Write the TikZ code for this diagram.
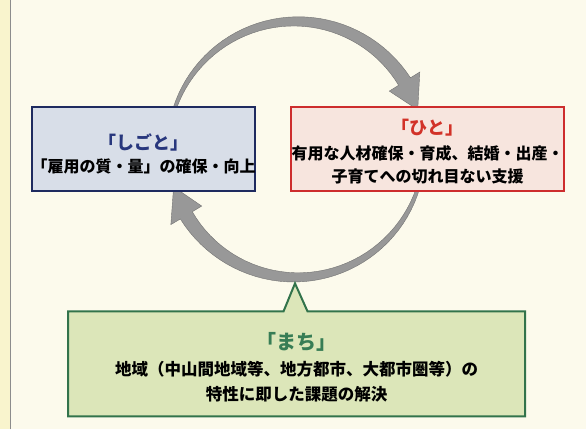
\documentclass[tikz,border=0pt]{standalone}
\usepackage{fontspec}
\setmainfont{Noto Sans CJK JP}
\usetikzlibrary{shapes.callouts}

\definecolor{bgcream}{RGB}{252,250,236}
\definecolor{stripyellow}{RGB}{249,244,205}
\definecolor{edgegray}{RGB}{140,140,140}
\definecolor{arrowfill}{RGB}{152,152,152}
\definecolor{arrowline}{RGB}{115,115,115}
\definecolor{shigotofill}{RGB}{216,222,232}
\definecolor{shigotoline}{RGB}{30,42,95}
\definecolor{shigotoink}{RGB}{40,55,125}
\definecolor{hitofill}{RGB}{247,229,222}
\definecolor{hitoline}{RGB}{205,45,45}
\definecolor{hitoink}{RGB}{210,50,40}
\definecolor{machifill}{RGB}{220,230,185}
\definecolor{machiline}{RGB}{50,115,75}
\definecolor{machiink}{RGB}{55,125,85}

\tikzset{
    box/.style={draw, line width=2pt, minimum height=84pt, inner sep=0pt},
    bodytext/.style={align=center, font=\bfseries\fontsize{16}{23}\selectfont},
    ringarrow/.style={fill=arrowfill, draw=arrowline, line width=0.4pt},
}

\begin{document}
\begin{tikzpicture}[x=1pt, y=1pt]
    % Background
    \fill[bgcream] (0,0) rectangle (586,429);
    \fill[stripyellow] (0,0) rectangle (10,429);
    \draw[edgegray, line width=0.8pt] (10,0) -- (10,429);
    \useasboundingbox (0,0) rectangle (586,429);

    % Centre of the cycle
    \coordinate (hub) at (296,280);

    % Upper arrow (shigoto -> hito)
    \fill[ringarrow, shift={(hub)}]
        plot[domain=0:1, samples=40] ({165-133*\x}:{129.5+5.5*\x})
        -- (32:146) -- (18:128) -- (32:110)
        -- plot[domain=0:1, samples=40] ({32+133*\x}:{121+5.5*\x}) -- cycle;

    % Lower arrow (hito -> shigoto)
    \fill[ringarrow, shift={(hub)}]
        plot[domain=0:1, samples=40] ({346-135*\x}:{129.5+5.5*\x})
        -- (211:146) -- (197:128) -- (211:110)
        -- plot[domain=0:1, samples=40] ({211+135*\x}:{121+5.5*\x}) -- cycle;

    % Boxes
    \node[box, draw=shigotoline, fill=shigotofill, minimum width=223pt] (shigoto) at (143.5,280.5) {};
    \node[bodytext] (shigototext) at ([yshift=-5pt]shigoto.center)
        {{\color{shigotoink}\fontsize{18}{23}\selectfont 「しごと」}\\
         「雇用の質・量」の確保・向上};

    \node[box, draw=hitoline, fill=hitofill, minimum width=273pt] (hito) at (427.5,280) {};
    \node[bodytext] (hitotext) at ([yshift=-2pt]hito.center)
        {{\color{hitoink}\fontsize{18}{23}\selectfont 「ひと」}\\[2pt]
         有用な人材確保・育成、結婚・出産・\\
         子育てへの切れ目ない支援};

    % Callout box
    \coordinate (machitip) at (295,146);
    \node[rectangle callout, draw=machiline, fill=machifill, line width=2pt,
          minimum width=457pt, minimum height=105pt, inner sep=0pt,
          callout absolute pointer={(machitip)}, callout pointer width=24pt]
        (machi) at (296.5,65.5) {};
    \node[bodytext, font=\bfseries\fontsize{16.5}{25}\selectfont] (machitext) at ([yshift=-3pt]machi.center)
        {{\color{machiink}\fontsize{20}{25}\selectfont 「まち」}\\[1pt]
         地域（中山間地域等、地方都市、大都市圏等）の\\
         特性に即した課題の解決};
\end{tikzpicture}
\end{document}
